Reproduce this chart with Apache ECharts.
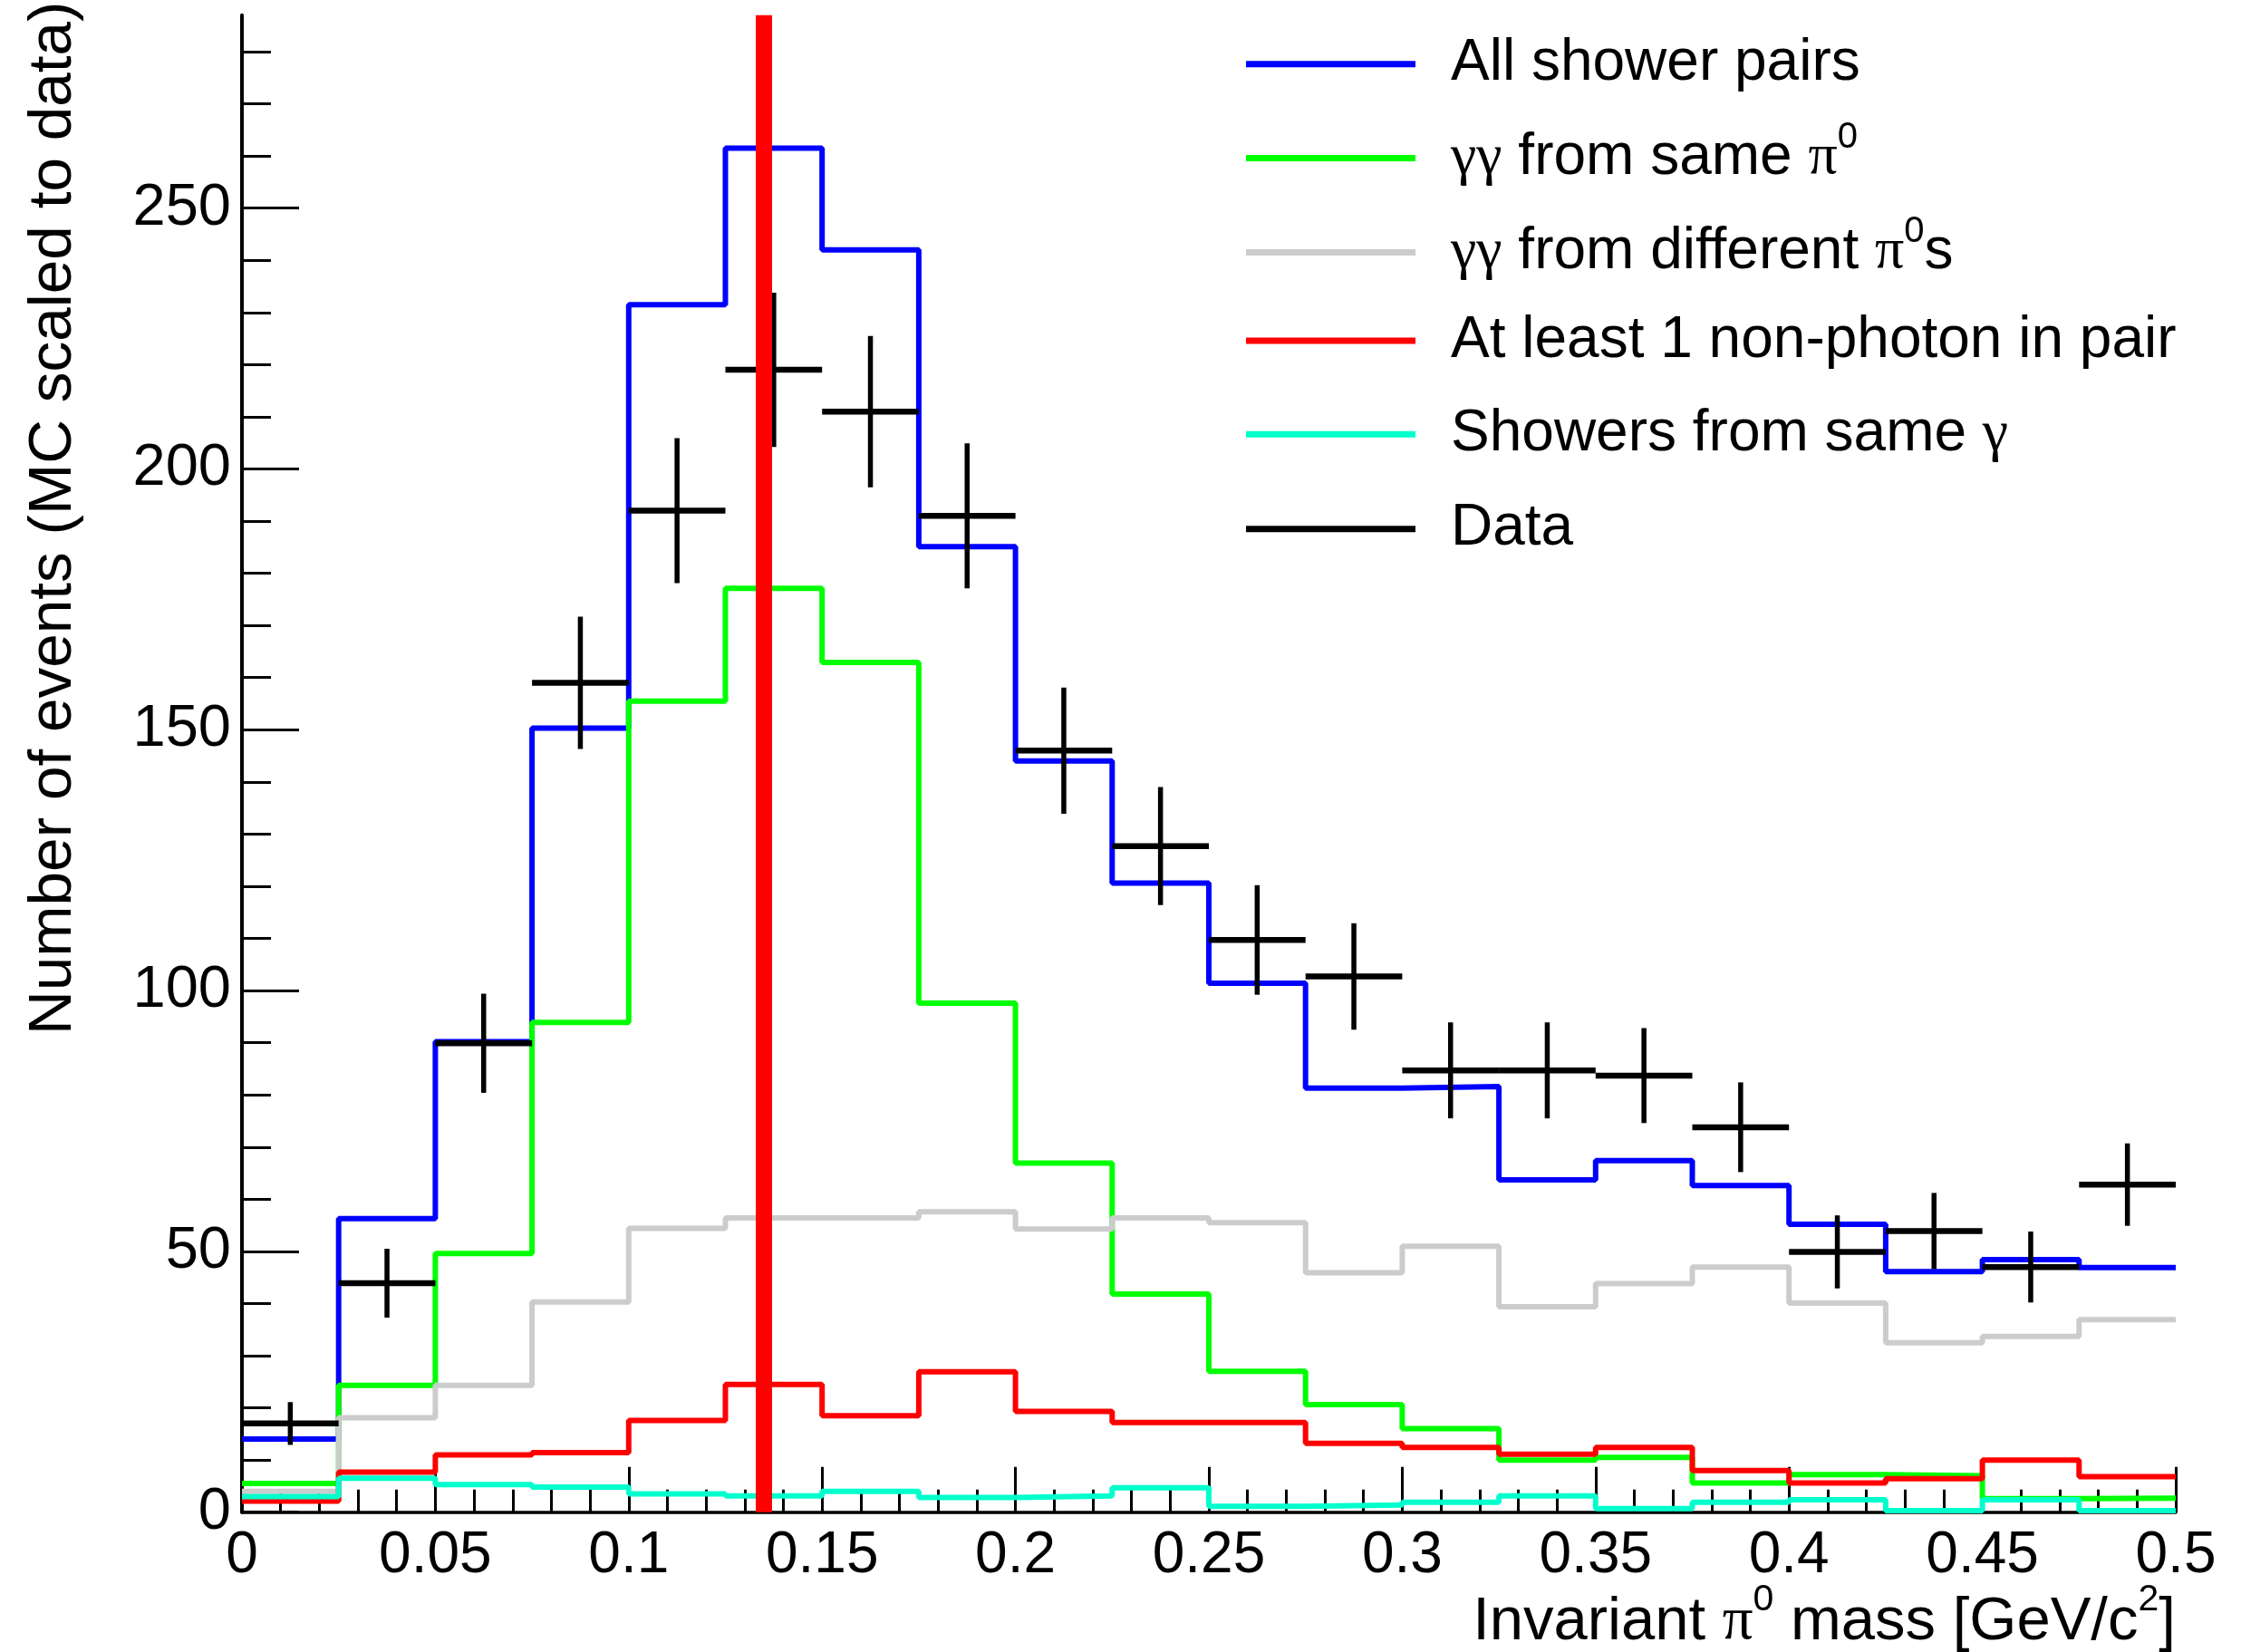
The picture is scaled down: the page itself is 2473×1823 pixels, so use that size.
<!DOCTYPE html>
<html>
<head>
<meta charset="utf-8">
<script src="https://cdn.jsdelivr.net/npm/echarts@6/dist/echarts.min.js"></script>
<style>
html,body{margin:0;padding:0;background:#fff;}
#main{width:2473px;height:1823px;}
</style>
</head>
<body>
<div id="main"></div>
<script>
// ---- data ----
const binEdges = [0, 0.025, 0.05, 0.075, 0.1, 0.125, 0.15, 0.175, 0.2, 0.225, 0.25,
                  0.275, 0.3, 0.325, 0.35, 0.375, 0.4, 0.425, 0.45, 0.475, 0.5];
const allPairs    = [14, 56.3, 90.2, 150.3, 231.5, 261.5, 242, 185.1, 144, 120.6, 101.4, 81.3, 81.6, 63.7, 67.4, 62.6, 55.2, 46.1, 48.4, 46.9];
const samePi0     = [5.5, 24.3, 49.6, 93.9, 155.5, 177.1, 162.9, 97.6, 66.9, 41.8, 27.0, 20.6, 16.0, 10.0, 10.5, 5.6, 7.2, 7.0, 2.6, 2.7];
const diffPi0     = [4.0, 18.1, 24.3, 40.3, 54.4, 56.4, 56.4, 57.6, 54.3, 56.4, 55.5, 45.9, 51.0, 39.4, 43.8, 47.0, 40.1, 32.5, 33.7, 36.9];
const nonPhoton   = [2.1, 7.7, 11.0, 11.4, 17.6, 24.5, 18.5, 26.9, 19.3, 17.2, 17.2, 13.2, 12.4, 11.1, 12.4, 8.0, 5.6, 6.4, 10.0, 6.8];
const sameGamma   = [3.0, 6.5, 5.3, 4.8, 3.5, 3.1, 4.0, 2.8, 3.1, 4.7, 1.1, 1.4, 1.9, 3.1, 0.7, 1.9, 2.4, 0.3, 2.4, 0.3];
const dataValues  = [17.0, 43.9, 89.9, 159.0, 192.0, 219.0, 211.0, 191.0, 146.0, 127.7, 109.7, 102.7, 84.7, 84.7, 83.7, 73.8, 49.9, 53.9, 47.0, 62.8];
const dataErrors  = [4.1, 6.6, 9.5, 12.7, 13.9, 14.8, 14.5, 13.9, 12.1, 11.3, 10.5, 10.2, 9.2, 9.2, 9.1, 8.6, 7.0, 7.3, 6.8, 7.9];
const pi0Mass = 0.135;
const xMin = 0, xMax = 0.5, xInterval = 0.05;
const yMin = 0, yMax = 287;
const yMajorTicks = [0, 50, 100, 150, 200, 250];
const yMinorTicks = [10, 20, 30, 40, 60, 70, 80, 90, 110, 120, 130, 140, 160, 170, 180, 190,
                     210, 220, 230, 240, 260, 270, 280];
const seriesNames = ['All shower pairs', 'γγ from same π0', 'γγ from different π0s',
                     'At least 1 non-photon in pair', 'Showers from same γ', 'Data'];
const legendRich = {
  'All shower pairs': '{sp| }{t|All shower pairs}',
  'γγ from same π0': '{sp| }{g|γγ}{t| from same }{g|π}{sup|0}',
  'γγ from different π0s': '{sp| }{g|γγ}{t| from different }{g|π}{sup|0}{t|s}',
  'At least 1 non-photon in pair': '{sp| }{t|At least 1 non-photon in pair}',
  'Showers from same γ': '{sp| }{t|Showers from same }{g|γ}',
  'Data': '{sp| }{t|Data}'
};
const colors = ['#0000ff', '#00ff00', '#cccccc', '#ff0000', '#00ffcc', '#000000'];

// ---- build ----
function stepData(vals) {
  const out = vals.map((v, i) => [binEdges[i], v]);
  out.push([binEdges[binEdges.length - 1], vals[vals.length - 1]]);
  return out;
}
const histVals = [allPairs, samePi0, diffPi0, nonPhoton, sameGamma];
const FONT = 'Liberation Sans, Arial, Helvetica, sans-serif';
const SERIF = 'Liberation Serif, Times New Roman, serif';

const series = histVals.map((vals, k) => ({
  name: seriesNames[k],
  type: 'line',
  step: 'end',
  data: stepData(vals),
  symbol: 'none',
  showSymbol: false,
  lineStyle: { color: colors[k], width: 6 },
  itemStyle: { color: colors[k] },
  z: 2,
  silent: true
}));
series[0].markLine = {
  silent: true,
  symbol: ['none', 'none'],
  precision: 4,
  label: { show: false },
  lineStyle: { color: '#ff0000', width: 18, type: 'solid' },
  emphasis: { disabled: true },
  data: [{ xAxis: pi0Mass }],
  z: 20,
  animation: false
};
series.push({
  name: 'Data',
  type: 'custom',
  itemStyle: { color: '#000' },
  data: dataValues.map((v, i) => [binEdges[i], binEdges[i + 1], v, dataErrors[i]]),
  encode: { x: [0, 1], y: [2] },
  z: 3,
  silent: true,
  renderItem: function (params, api) {
    const lo = api.value(0), hi = api.value(1), v = api.value(2), e = api.value(3);
    const c = (lo + hi) / 2;
    const a = api.coord([lo, v]), b = api.coord([hi, v]);
    const t = api.coord([c, v + e]), d = api.coord([c, v - e]);
    return {
      type: 'group',
      children: [
        { type: 'line', shape: { x1: a[0], y1: a[1], x2: b[0], y2: b[1] }, style: { stroke: '#000', lineWidth: 6.5 } },
        { type: 'line', shape: { x1: t[0], y1: t[1], x2: d[0], y2: d[1] }, style: { stroke: '#000', lineWidth: 5.5 } }
      ]
    };
  }
});

// one legend block per entry (entries with superscripts have a taller text box)
const legendTops = [35.7, 131.6, 235.5, 340.9, 444.3, 548.7];
const legends = seriesNames.map((n, k) => ({
  orient: 'vertical',
  left: 1375,
  top: legendTops[k],
  padding: 0,
  itemWidth: 187,
  itemHeight: 7,
  selectedMode: false,
  data: [{ name: n, icon: 'rect', itemStyle: { color: colors[k] } }],
  formatter: function (name) { return legendRich[name]; },
  textStyle: {
    fontFamily: FONT, fontSize: 64, lineHeight: 70, color: '#000',
    rich: {
      sp: { width: 34, fontSize: 64, lineHeight: 70 },
      t: { fontFamily: FONT, fontSize: 64, lineHeight: 70, color: '#000' },
      g: { fontFamily: SERIF, fontSize: 64, lineHeight: 70, color: '#000' },
      sup: { fontFamily: FONT, fontSize: 40, height: 24, verticalAlign: 'top', color: '#000' }
    }
  }
}));

const chart = echarts.init(document.getElementById('main'), null, { renderer: 'canvas' });
chart.setOption({
  animation: false,
  backgroundColor: '#ffffff',
  grid: { left: 267, right: 72, top: 16.7, bottom: 154.3, containLabel: false, outerBoundsMode: 'none' },
  legend: legends,
  xAxis: {
    type: 'value',
    min: xMin, max: xMax, interval: xInterval,
    axisLine: { show: true, onZero: false, lineStyle: { color: '#000', width: 3.5 } },
    axisTick: { show: true, inside: true, length: 50, lineStyle: { color: '#000', width: 3 } },
    minorTick: { show: true, splitNumber: 5, length: 25, lineStyle: { color: '#000', width: 3 } },
    splitLine: { show: false },
    axisLabel: { fontFamily: FONT, fontSize: 64, color: '#000', margin: 17 },
    name: '{t|Invariant }{g|π}{sup|0}{t| mass [GeV/c}{sup|2}{t|]}',
    nameLocation: 'middle',
    nameGap: 87,
    nameMoveOverlap: false,
    nameTextStyle: {
      fontFamily: FONT, fontSize: 67, lineHeight: 70, color: '#000',
      padding: [0, 0, 0, 1358],
      rich: {
        t: { fontFamily: FONT, fontSize: 67, lineHeight: 70, color: '#000' },
        g: { fontFamily: SERIF, fontSize: 67, lineHeight: 70, color: '#000' },
        sup: { fontFamily: FONT, fontSize: 41, height: 20, verticalAlign: 'top', color: '#000' }
      }
    }
  },
  yAxis: [{
    type: 'value',
    position: 'left',
    min: yMin, max: yMax,
    axisLine: { show: true, lineStyle: { color: '#000', width: 4 } },
    axisTick: { show: true, inside: true, length: 63, customValues: yMajorTicks, lineStyle: { color: '#000', width: 3 } },
    axisLabel: { customValues: yMajorTicks, fontFamily: FONT, fontSize: 65, color: '#000', margin: 12 },
    splitLine: { show: false },
    name: 'Number of events (MC scaled to data)',
    nameLocation: 'middle',
    nameGap: 173,
    nameMoveOverlap: false,
    nameTextStyle: {
      fontFamily: FONT, fontSize: 67.5, lineHeight: 70, color: '#000',
      padding: [0, 0, 0, 542]
    }
  }, {
    type: 'value',
    position: 'left',
    min: yMin, max: yMax,
    axisLine: { show: false },
    axisTick: { show: true, inside: true, length: 32, customValues: yMinorTicks, lineStyle: { color: '#000', width: 3 } },
    axisLabel: { show: false },
    splitLine: { show: false }
  }],
  series: series
});
</script>
</body>
</html>
